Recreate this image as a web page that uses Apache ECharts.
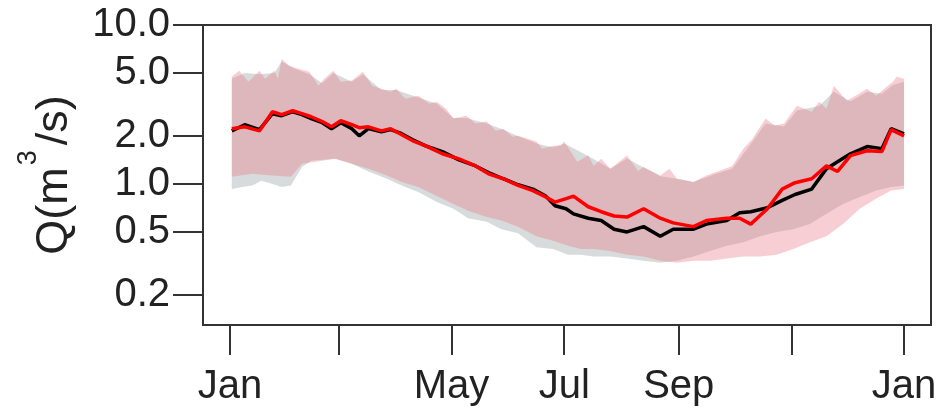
<!DOCTYPE html>
<html><head><meta charset="utf-8">
<script src="https://cdn.jsdelivr.net/npm/echarts@6/dist/echarts.min.js"></script>
<style>html,body{margin:0;padding:0;background:#fff}#chart{width:951px;height:417px}</style>
</head><body><div id="chart"></div>
<script>
// X axis: day of year (0 = 1 Jan, 365 = 1 Jan next year)
const xTickDays = [0, 59, 120, 181, 243, 304, 365];
const xTickLabels = ['Jan', '', 'May', 'Jul', 'Sep', '', 'Jan'];
const yTickValues = [0.2, 0.5, 1, 2, 5, 10];
const yTickLabels = ['0.2', '0.5', '1.0', '2.0', '5.0', '10.0'];

// Median lines (m3/s)
const lineDays = [1,8,16,23,28,34,39,44,50,55,60,66,70,75,82,87,92,99,106,115,124,133,140,148,156,164,171,176,182,186,194,201,208,215,224,233,240,251,258,269,276,282,291,299,306,315,323,329,336,345,353,358,365];
const observed = [2.16,2.36,2.20,2.77,2.69,2.85,2.73,2.58,2.43,2.23,2.43,2.23,2.01,2.23,2.13,2.20,2.10,1.90,1.74,1.60,1.42,1.30,1.18,1.08,0.99,0.93,0.84,0.73,0.70,0.65,0.61,0.59,0.52,0.50,0.54,0.47,0.52,0.52,0.56,0.59,0.66,0.67,0.71,0.79,0.86,0.93,1.25,1.38,1.55,1.72,1.67,2.23,2.07];
const simulated = [2.23,2.29,2.16,2.85,2.73,2.89,2.77,2.65,2.47,2.29,2.50,2.36,2.26,2.29,2.16,2.23,2.07,1.87,1.74,1.55,1.44,1.30,1.16,1.08,0.98,0.91,0.83,0.77,0.81,0.84,0.72,0.67,0.63,0.62,0.70,0.61,0.57,0.54,0.59,0.61,0.61,0.56,0.70,0.93,1.02,1.08,1.30,1.20,1.51,1.62,1.60,2.20,2.01];

// Simulated (pink) band
const simUpperDays = [1,5,10,16,19,24,26,28,32,37,43,48,51,56,60,66,72,77,82,87,90,95,102,108,112,117,121,128,133,139,144,148,153,156,166,169,175,179,181,188,194,197,201,206,215,221,224,233,238,242,251,258,264,272,278,283,290,295,300,307,315,319,323,327,334,336,345,350,353,359,361,365];
const simUpper = [4.73,5.16,4.40,5.16,4.60,5.16,4.60,6.14,5.55,5.31,5.09,4.15,4.60,5.16,4.40,4.47,5.09,4.15,3.98,3.81,3.98,3.44,3.59,3.20,3.29,2.98,2.58,2.69,2.40,2.47,2.16,2.23,1.98,2.01,1.85,1.67,1.74,1.74,1.85,1.38,1.51,1.30,1.44,1.25,1.51,1.21,1.28,1.13,1.25,1.08,1.03,1.13,1.20,1.30,1.67,1.93,2.58,2.33,2.40,3.11,2.85,3.29,2.98,4.15,3.34,3.44,3.98,3.59,3.86,4.40,4.73,4.60];
const simLowerDays = [1,12,23,33,39,57,75,85,93,102,112,121,129,139,147,156,166,175,183,190,197,206,215,224,233,242,251,260,269,278,287,296,305,314,323,332,341,350,358,365];
const simLower = [1.11,1.16,1.13,1.11,1.34,1.44,1.25,1.13,1.03,0.96,0.84,0.75,0.68,0.62,0.59,0.54,0.47,0.44,0.41,0.39,0.39,0.38,0.36,0.35,0.33,0.32,0.33,0.33,0.34,0.35,0.35,0.36,0.39,0.43,0.47,0.56,0.70,0.81,0.91,0.93];

// Observed (grey) band
const obsUpperDays = [1,8,16,24,28,35,43,50,56,66,72,82,90,102,112,121,128,139,148,156,166,175,181,194,206,215,224,233,242,251,264,272,283,290,300,307,319,327,336,345,353,359,365];
const obsUpper = [4.6,5.0,4.9,5.0,5.9,5.3,4.9,4.3,5.0,4.4,4.9,3.9,3.9,3.5,3.2,2.6,2.6,2.4,2.2,2.0,1.8,1.7,1.8,1.5,1.25,1.45,1.27,1.12,1.08,1.03,1.17,1.25,1.85,2.4,2.3,2.9,3.1,3.8,3.3,3.8,3.7,4.2,4.4];
const obsLowerDays = [1,5,12,17,23,28,33,39,44,57,66,75,85,93,102,112,121,129,139,147,156,166,175,183,190,197,206,215,224,233,242,251,260,269,278,287,296,305,314,323,332,341,350,358,365];
const obsLower = [0.93,0.95,0.98,1.05,1.00,0.96,0.98,1.28,1.40,1.44,1.34,1.20,1.08,0.98,0.89,0.77,0.70,0.61,0.58,0.52,0.49,0.40,0.39,0.36,0.36,0.35,0.35,0.34,0.33,0.32,0.33,0.35,0.38,0.41,0.43,0.47,0.50,0.52,0.56,0.65,0.75,0.83,0.91,0.96,0.98];

const L = Math.log10;
const textColor = '#222';
const fontFamily = '"Liberation Sans", Arial, Helvetica, sans-serif';

function bandSeries(upDays, up, loDays, lo, color, z) {
  return {
    type: 'custom',
    coordinateSystem: 'cartesian2d',
    data: [[upDays[0], L(up[0])]],
    encode: { x: 0, y: 1 },
    clip: true,
    silent: true,
    z: z,
    renderItem: function (params, api) {
      const pts = [];
      for (let i = 0; i < upDays.length; i++) pts.push(api.coord([upDays[i], L(up[i])]));
      for (let i = loDays.length - 1; i >= 0; i--) pts.push(api.coord([loDays[i], L(lo[i])]));
      return { type: 'polygon', shape: { points: pts }, style: { fill: color } };
    }
  };
}

const chart = echarts.init(document.getElementById('chart'), null, { renderer: 'canvas' });
chart.setOption({
  animation: false,
  backgroundColor: '#fff',
  textStyle: { fontFamily: fontFamily },
  grid: { left: 203, right: 20, top: 25, bottom: 92, show: true, borderColor: '#333', borderWidth: 2, backgroundColor: 'transparent' },
  xAxis: {
    type: 'value', min: -14.6, max: 379.6,
    axisLine: { show: false, onZero: false },
    splitLine: { show: false },
    axisTick: { show: true, inside: false, length: 30, lineStyle: { color: '#333', width: 2 }, customValues: xTickDays },
    axisLabel: {
      customValues: xTickDays, margin: 42, fontSize: 40, color: textColor, fontFamily: fontFamily,
      formatter: function (v) { const i = xTickDays.indexOf(v); return i >= 0 ? xTickLabels[i] : ''; }
    }
  },
  yAxis: {
    type: 'value', min: L(0.13), max: 1,
    axisLine: { show: false, onZero: false },
    splitLine: { show: false },
    axisTick: { show: true, inside: false, length: 30, lineStyle: { color: '#333', width: 2 }, customValues: yTickValues.map(L) },
    axisLabel: {
      customValues: yTickValues.map(L), margin: 33, fontSize: 40, color: textColor, fontFamily: fontFamily,
      formatter: function (v) {
        const i = yTickValues.findIndex(t => Math.abs(L(t) - v) < 1e-6);
        return i >= 0 ? yTickLabels[i] : '';
      }
    },
    name: '{b|Q(m}{sup|3}{b|/s)}',
    nameLocation: 'middle',
    nameGap: 126,
    nameTextStyle: {
      color: textColor, fontSize: 45, fontFamily: fontFamily,
      rich: {
        b: { fontSize: 45, color: textColor, fontFamily: fontFamily, lineHeight: 62, verticalAlign: 'bottom' },
        sup: { fontSize: 27, color: textColor, fontFamily: fontFamily, verticalAlign: 'top', padding: [0, 5, 0, 2] }
      }
    }
  },
  series: [
    bandSeries(obsUpperDays, obsUpper, obsLowerDays, obsLower, 'rgba(165,172,172,0.44)', 1),
    bandSeries(simUpperDays, simUpper, simLowerDays, simLower, 'rgba(232,118,132,0.36)', 2),
    {
      type: 'line', name: 'Observed', z: 3, showSymbol: false, silent: true,
      data: lineDays.map((d, i) => [d, L(observed[i])]),
      lineStyle: { color: '#000', width: 3.5 }
    },
    {
      type: 'line', name: 'Simulated', z: 4, showSymbol: false, silent: true,
      data: lineDays.map((d, i) => [d, L(simulated[i])]),
      lineStyle: { color: '#ff0000', width: 3.5 }
    }
  ]
});
</script>
</body></html>
